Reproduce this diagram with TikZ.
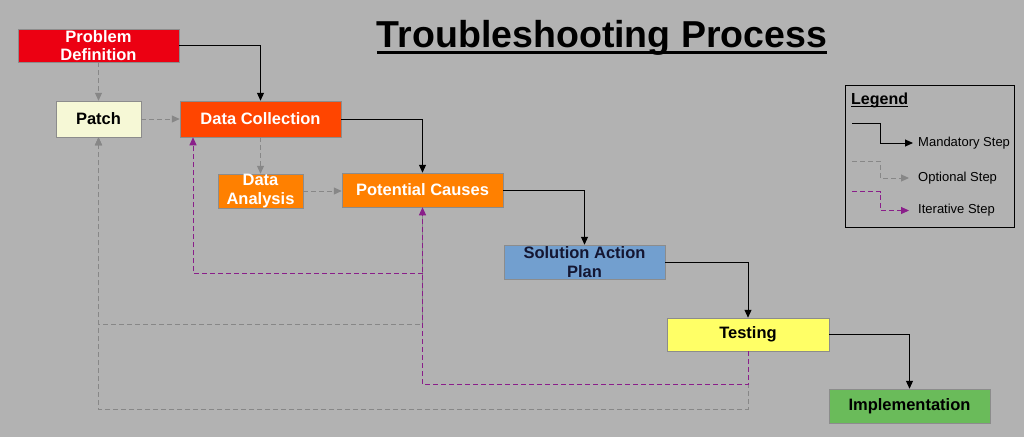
\documentclass[tikz,border=0pt]{standalone}
\usepackage{fontspec}
\setmainfont{Liberation Sans}
\usetikzlibrary{arrows.meta}

\definecolor{bggray}{RGB}{178,178,178}
\definecolor{pdred}{RGB}{236,0,18}
\definecolor{dcorange}{RGB}{255,69,0}
\definecolor{pcorange}{RGB}{255,128,0}
\definecolor{patchcream}{RGB}{246,248,214}
\definecolor{sapblue}{RGB}{114,159,207}
\definecolor{sapnavy}{RGB}{20,22,50}
\definecolor{testyellow}{RGB}{255,255,102}
\definecolor{implgreen}{RGB}{106,187,90}
\definecolor{optgray}{RGB}{135,135,135}
\definecolor{itpurple}{RGB}{138,30,138}

% underline: #1 thickness, #2 gap below baseline, #3 text
\newcommand{\thickul}[3]{\leavevmode\setbox0\hbox{#3}\rlap{\vrule height -#2 depth \dimexpr#2+#1\relax width \wd0}\box0}

\begin{document}
\begin{tikzpicture}[x=1pt,y=-1pt,
  >={Triangle[length=8pt,width=7pt]},
  box/.style={draw=black!45,line width=0.5pt,inner sep=0pt,minimum width=161pt,minimum height=34pt,align=center,font=\fontsize{16.5}{18.5}\selectfont\bfseries},
  lbl/.style={anchor=west,inner sep=0pt,font=\fontsize{13}{15}\selectfont},
  mand/.style={->,line width=1pt,black},
  opt/.style={->,line width=1pt,optgray,dash pattern=on 5pt off 3pt},
  iter/.style={->,line width=1pt,itpurple,dash pattern=on 5pt off 3pt}]
\fill[bggray] (0,0) rectangle (1024,437);
\useasboundingbox (0,0) rectangle (1024,437);
\node[anchor=base,font=\fontsize{37.5}{40}\selectfont\bfseries] (title) at (602,47) {\thickul{2.6pt}{4pt}{Troubleshooting Process}};
\node[box,fill=pdred,text=white,minimum height=33pt] (pd) at (98.5,45.5) {Problem\\Definition};
\node[box,fill=patchcream,minimum width=85pt,minimum height=36pt] (patch) at (98.5,119) {Patch};
\node[box,fill=dcorange,text=white,minimum height=36pt] (dc) at (260.5,119) {Data Collection};
\node[box,fill=pcorange,text=white,minimum width=85pt] (da) at (260.5,191) {Data\\Analysis};
\node[box,fill=pcorange,text=white] (pc) at (422.5,190) {Potential Causes};
\node[box,fill=sapblue,text=sapnavy] (sap) at (584.5,262) {Solution Action\\Plan};
\node[box,fill=testyellow,minimum width=162pt,minimum height=33pt] (test) at (748,334.5) {Testing};
\node[box,fill=implgreen] (impl) at (909.5,406) {Implementation};
\draw[mand] (pd.east) -| (dc.north);
\draw[mand] (dc.east) -| (pc.north);
\draw[mand] (pc.east) -| (sap.north);
\draw[mand] (sap.east) -| (test.north);
\draw[mand] (test.east) -| (impl.north);
\draw[opt] (pd.south) -- (patch.north);
\draw[opt] (patch.east) -- (dc.west);
\draw[opt] (dc.south) -- (da.north);
\draw[opt] (da.east) -- (da.east -| pc.west);
\draw[opt] (pc.south) -- ++(0,117) -| (patch.south);
\draw[opt] (test.south) -- ++(0,58) -| (patch.south);
\draw[iter] (test.south) -- ++(0,33.5) -| (pc.south);
\draw[iter] (pc.south) ++(0,66.5) -| ([xshift=-67.5pt]dc.south);
\node[draw,line width=1.6pt,inner sep=0pt,minimum width=169pt,minimum height=142pt] (legend) at (930,156.5) {};
\node[anchor=west,inner sep=0pt,font=\fontsize{16}{18}\selectfont\bfseries] (legtitle) at (851,100) {\thickul{1.2pt}{2pt}{Legend}};
\node[lbl] (mtext) at (918,143) {Mandatory Step};
\node[lbl] (otext) at (918,178) {Optional Step};
\node[lbl] (itext) at (918,210.5) {Iterative Step};
\coordinate (m0) at (852,123);
\coordinate (o0) at (852,161);
\coordinate (i0) at (852,191.5);
\draw[mand,shorten >=5pt] (m0) -| ++(28,20) -- (mtext.west);
\draw[opt,shorten >=9pt] (o0) -| ++(28,17) -- (otext.west);
\draw[iter,shorten >=9pt] (i0) -| ++(28.5,19) -- (itext.west);
\end{tikzpicture}
\end{document}
